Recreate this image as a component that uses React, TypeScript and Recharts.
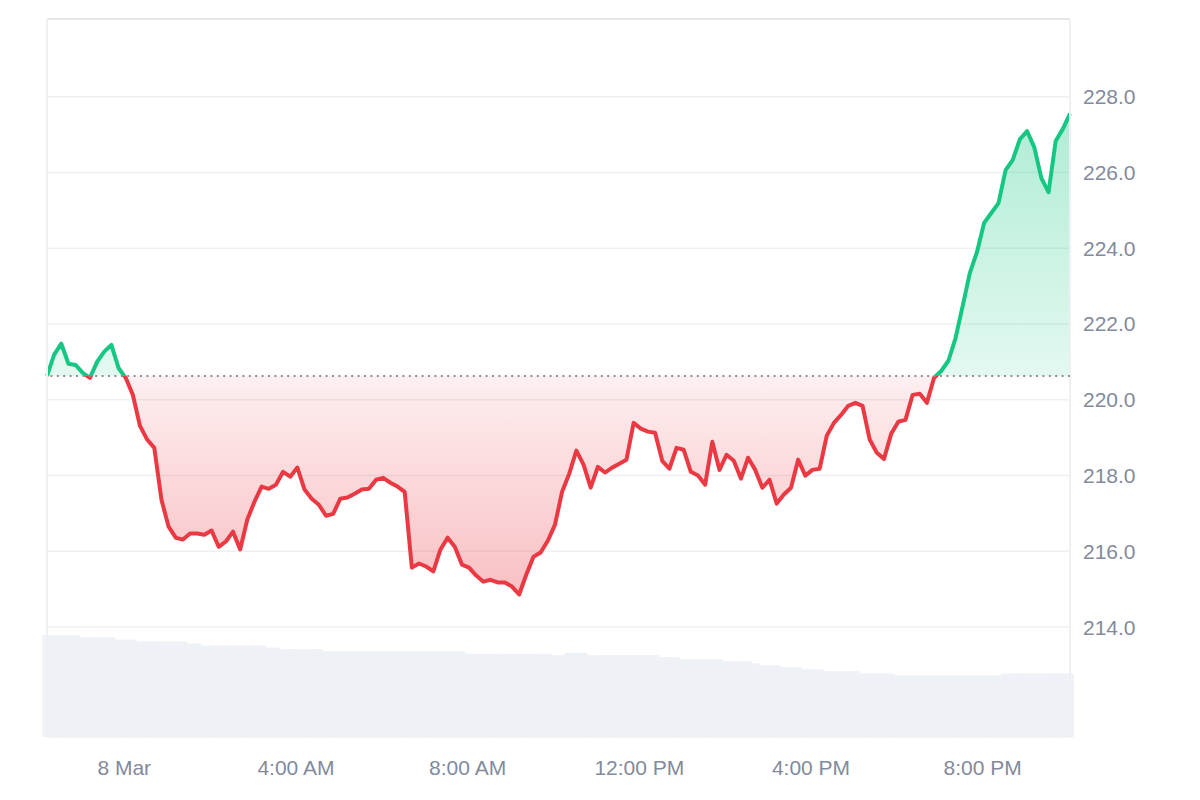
import React from 'react';
import {
  ComposedChart,
  Area,
  Bar,
  XAxis,
  YAxis,
  CartesianGrid,
  ReferenceLine,
} from 'recharts';

// Price every 10 minutes, starting 22:12 on 7 Mar
const PRICES = [
  220.63, 221.19, 221.48, 220.95, 220.92, 220.71, 220.58, 221.0, 221.27, 221.45,
  220.84, 220.58, 220.13, 219.31, 218.95, 218.73, 217.36, 216.65, 216.36, 216.31,
  216.47, 216.47, 216.44, 216.55, 216.12, 216.26, 216.52, 216.05, 216.84, 217.31,
  217.71, 217.65, 217.76, 218.1, 217.97, 218.21, 217.63, 217.39, 217.23, 216.94,
  216.99, 217.39, 217.42, 217.52, 217.63, 217.65, 217.89, 217.94, 217.81, 217.71,
  217.57, 215.57, 215.68, 215.6, 215.47, 216.05, 216.36, 216.12, 215.65, 215.57,
  215.36, 215.2, 215.25, 215.18, 215.18, 215.07, 214.86, 215.39, 215.86, 215.97,
  216.28, 216.7, 217.57, 218.05, 218.66, 218.29, 217.68, 218.23, 218.08, 218.21,
  218.31, 218.42, 219.39, 219.24, 219.16, 219.13, 218.39, 218.18, 218.73, 218.68,
  218.1, 218.0, 217.76, 218.89, 218.15, 218.55, 218.39, 217.92, 218.47, 218.15,
  217.68, 217.89, 217.26, 217.5, 217.68, 218.42, 218.0, 218.15, 218.18, 219.05,
  219.39, 219.6, 219.84, 219.92, 219.84, 218.95, 218.6, 218.44, 219.1, 219.42,
  219.47, 220.13, 220.16, 219.92, 220.58, 220.76, 221.03, 221.63, 222.48, 223.35,
  223.9, 224.67, 224.93, 225.19, 226.06, 226.33, 226.88, 227.09, 226.67, 225.85,
  225.48, 226.83, 227.15, 227.55,
];

// 24h volume (billions) for the same timestamps
const VOLUMES = [
  3.0, 3.0, 3.0, 3.0, 3.0, 2.93, 2.93, 2.93, 2.93, 2.93,
  2.87, 2.87, 2.87, 2.81, 2.81, 2.81, 2.81, 2.81, 2.81, 2.81,
  2.75, 2.75, 2.69, 2.69, 2.69, 2.69, 2.69, 2.69, 2.69, 2.69,
  2.69, 2.63, 2.63, 2.58, 2.58, 2.58, 2.58, 2.58, 2.58, 2.52,
  2.52, 2.52, 2.52, 2.52, 2.52, 2.52, 2.52, 2.52, 2.52, 2.52,
  2.52, 2.52, 2.52, 2.52, 2.52, 2.52, 2.52, 2.52, 2.52, 2.44,
  2.44, 2.44, 2.44, 2.44, 2.44, 2.44, 2.44, 2.44, 2.44, 2.44,
  2.44, 2.4, 2.4, 2.47, 2.47, 2.47, 2.4, 2.4, 2.41, 2.41,
  2.41, 2.41, 2.41, 2.41, 2.41, 2.41, 2.34, 2.34, 2.34, 2.28,
  2.28, 2.28, 2.28, 2.28, 2.28, 2.22, 2.22, 2.22, 2.22, 2.16,
  2.1, 2.1, 2.1, 2.04, 2.04, 2.04, 1.98, 1.98, 1.98, 1.92,
  1.92, 1.92, 1.92, 1.92, 1.86, 1.86, 1.86, 1.86, 1.86, 1.8,
  1.8, 1.8, 1.8, 1.8, 1.8, 1.8, 1.8, 1.8, 1.8, 1.8,
  1.8, 1.8, 1.8, 1.8, 1.86, 1.86, 1.86, 1.86, 1.86, 1.86,
  1.86, 1.86, 1.86, 1.86,
];

const START_MIN = -108; // minutes from midnight 8 Mar
const STEP_MIN = 10;

const X_TICKS = [0, 240, 480, 720, 960, 1200];
const X_LABELS = ['8 Mar', '4:00 AM', '8:00 AM', '12:00 PM', '4:00 PM', '8:00 PM'];
const Y_TICKS = [214, 216, 218, 220, 222, 224, 226, 228];

const Y_MIN = 211.1;
const Y_MAX = 230.05;
const VOL_MAX = 21.33;

const GREEN = '#16c784';
const RED = '#ea3943';
const VOL_COLOR = '#eef1f5';
const FONT = '"Liberation Sans", Arial, sans-serif';

const data = PRICES.map((price, i) => ({
  t: START_MIN + i * STEP_MIN,
  price,
  vol: VOLUMES[i],
}));

const base = PRICES[0];
const hi = Math.max(...PRICES);
const lo = Math.min(...PRICES);
const split = (hi - base) / (hi - lo);

const tFirst = data[0].t;
const tLast = data[data.length - 1].t;

export default function App() {
  return (
    <div style={{ width: 1192, height: 784, fontFamily: FONT }}>
      <ComposedChart
        width={1192}
        height={784}
        data={data}
        margin={{ top: 11, right: 50, bottom: 15, left: 39 }}
      >
        <defs>
          <linearGradient id="priceStroke" x1="0" y1="0" x2="0" y2="1">
            <stop offset={0} stopColor={GREEN} />
            <stop offset={split} stopColor={GREEN} />
            <stop offset={split} stopColor={RED} />
            <stop offset={1} stopColor={RED} />
          </linearGradient>
          <linearGradient id="priceFill" x1="0" y1="0" x2="0" y2="1">
            <stop offset={0} stopColor={GREEN} stopOpacity={0.34} />
            <stop offset={split} stopColor={GREEN} stopOpacity={0.12} />
            <stop offset={split} stopColor={RED} stopOpacity={0.08} />
            <stop offset={1} stopColor={RED} stopOpacity={0.32} />
          </linearGradient>
        </defs>

        <CartesianGrid yAxisId="price" vertical={false} stroke="#eff0f3" strokeWidth={1.5} />

        <XAxis
          dataKey="t"
          type="number"
          domain={[tFirst, tLast]}
          ticks={X_TICKS}
          tickFormatter={(v: number) => X_LABELS[X_TICKS.indexOf(v)]}
          axisLine={false}
          tickLine={false}
          tickSize={6}
          tickMargin={17}
          height={40}
          tick={{ fill: '#838a9c', fontSize: 21, fontFamily: FONT }}
        />
        <YAxis
          yAxisId="price"
          orientation="right"
          type="number"
          domain={[Y_MIN, Y_MAX]}
          ticks={Y_TICKS}
          tickFormatter={(v: number) => v.toFixed(1)}
          axisLine={false}
          tickLine={false}
          tickSize={6}
          tickMargin={7}
          width={80}
          allowDataOverflow
          tick={{ fill: '#838a9c', fontSize: 21, fontFamily: FONT }}
        />
        <YAxis yAxisId="vol" hide domain={[0, VOL_MAX]} allowDataOverflow />

        <ReferenceLine yAxisId="price" y={Y_MAX} stroke="#e6e7ea" strokeWidth={2} />
        <ReferenceLine yAxisId="price" x={tFirst} stroke="#eff0f3" strokeWidth={2} />
        <ReferenceLine yAxisId="price" x={tLast} stroke="#eff0f3" strokeWidth={2} />

        <Bar
          yAxisId="vol"
          dataKey="vol"
          fill={VOL_COLOR}
          stroke={VOL_COLOR}
          strokeWidth={2}
          barSize={8}
          isAnimationActive={false}
        />

        <Area
          yAxisId="price"
          type="linear"
          dataKey="price"
          baseValue={base}
          stroke="url(#priceStroke)"
          strokeWidth={4}
          strokeLinejoin="round"
          fill="url(#priceFill)"
          fillOpacity={1}
          dot={false}
          activeDot={false}
          isAnimationActive={false}
        />

        <ReferenceLine
          yAxisId="price"
          y={base}
          stroke="#8b909b"
          strokeWidth={2}
          strokeDasharray="2 4.4"
        />
      </ComposedChart>
    </div>
  );
}
